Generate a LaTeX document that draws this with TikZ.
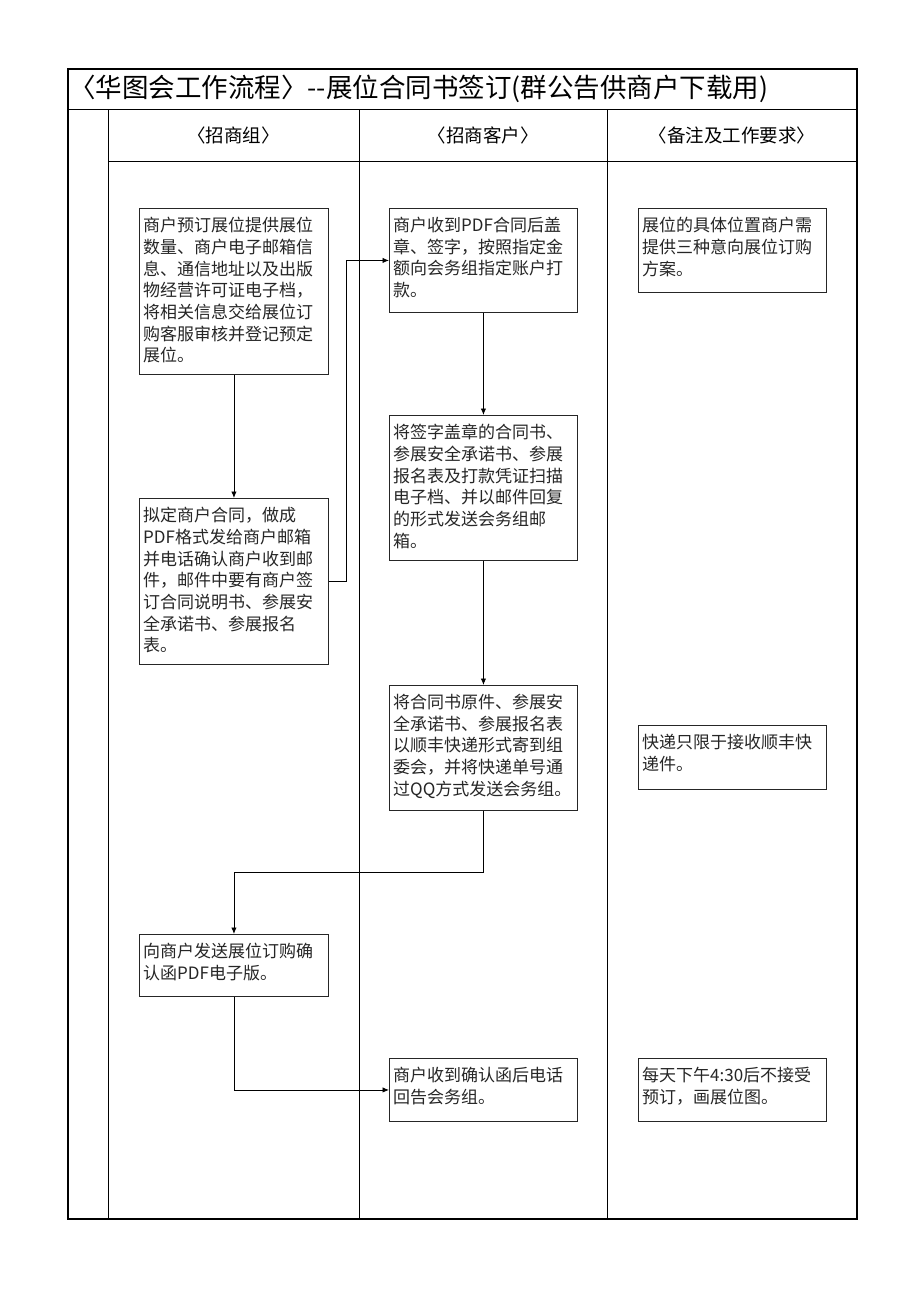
\documentclass[tikz,border=0pt]{standalone}
\usepackage{fontspec}
\setmainfont{Noto Sans CJK SC}
\usetikzlibrary{arrows.meta,calc}
\tikzset{
  boxnode/.style={draw=black!85, line width=0.9pt, rectangle, anchor=north west, inner sep=0pt},
  txtnode/.style={anchor=north west, inner sep=0pt, align=left, text=black!85, font=\fontsize{17}{21.7}\selectfont},
  arr/.style={-{Latex[length=6.5pt,width=5.5pt]}, line width=0.9pt},
  grid/.style={line width=1pt, black},
  headnode/.style={font=\fontsize{18.5}{20}\selectfont, inner sep=0pt}
}
\newcommand\mkbox[6]{%
  \node[boxnode, minimum width=#4pt, minimum height=#5pt] (#1) at (#2,#3) {};
  \node[txtnode] (#1t) at ($(#2,#3)+(4,9)$) {#6};
}
\begin{document}
\begin{tikzpicture}[x=1pt,y=-1pt]
\useasboundingbox (0,0) rectangle (920,1302);
\fill[white] (0,0) rectangle (920,1302);
% table frame
\draw[line width=1.4pt] (68,69) rectangle (857,1219);
\draw[grid] (68,109) -- (857,109);
\draw[grid] (108,109) -- (108,1219);
\draw[grid] (359,109) -- (359,1219);
\draw[grid] (607,109) -- (607,1219);
\draw[grid] (108,161) -- (857,161);
% title
\node[anchor=west, inner sep=0pt, font=\fontsize{26.5}{28}\selectfont] (title) at (69,89) {〈华图会工作流程〉{-}{-}展位合同书签订(群公告供商户下载用)};
% headers
\node[headnode] (h1) at (233.5,135) {〈招商组〉};
\node[headnode] (h2) at (483,135) {〈招商客户〉};
\node[headnode] (h3) at (732,135) {〈备注及工作要求〉};
% boxes
\mkbox{a}{139}{208}{189}{166}{商户预订展位提供展位\\数量、商户电子邮箱信\\息、通信地址以及出版\\物经营许可证电子档，\\将相关信息交给展位订\\购客服审核并登记预定\\展位。}
\mkbox{b}{139}{498}{189}{166}{拟定商户合同，做成\\PDF格式发给商户邮箱\\并电话确认商户收到邮\\件，邮件中要有商户签\\订合同说明书、参展安\\全承诺书、参展报名\\表。}
\mkbox{h}{139}{934}{189}{62}{向商户发送展位订购确\\认函PDF电子版。}
\mkbox{c}{389}{208}{188}{104}{商户收到PDF合同后盖\\章、签字，按照指定金\\额向会务组指定账户打\\款。}
\mkbox{d}{389}{415}{188}{145}{将签字盖章的合同书、\\参展安全承诺书、参展\\报名表及打款凭证扫描\\电子档、并以邮件回复\\的形式发送会务组邮\\箱。}
\mkbox{e}{389}{685}{188}{125}{将合同书原件、参展安\\全承诺书、参展报名表\\以顺丰快递形式寄到组\\委会，并将快递单号通\\过QQ方式发送会务组。}
\mkbox{i}{389}{1058}{188}{63}{商户收到确认函后电话\\回告会务组。}
\mkbox{f}{638}{208}{188}{84}{展位的具体位置商户需\\提供三种意向展位订购\\方案。}
\mkbox{g}{638}{725}{188}{64}{快递只限于接收顺丰快\\递件。}
\mkbox{j}{638}{1058}{188}{63}{每天下午4:30后不接受\\预订，画展位图。}
% connectors
\draw[arr] (a.south) -- (b.north);
\draw[arr] (b.east) -- ++(18,0) |- (c.west);
\draw[arr] (c.south) -- (d.north);
\draw[arr] (d.south) -- (e.north);
\draw[arr] (e.south) -- ++(0,62) -| (h.north);
\draw[arr] (h.south) |- (i.west);
\end{tikzpicture}
\end{document}
